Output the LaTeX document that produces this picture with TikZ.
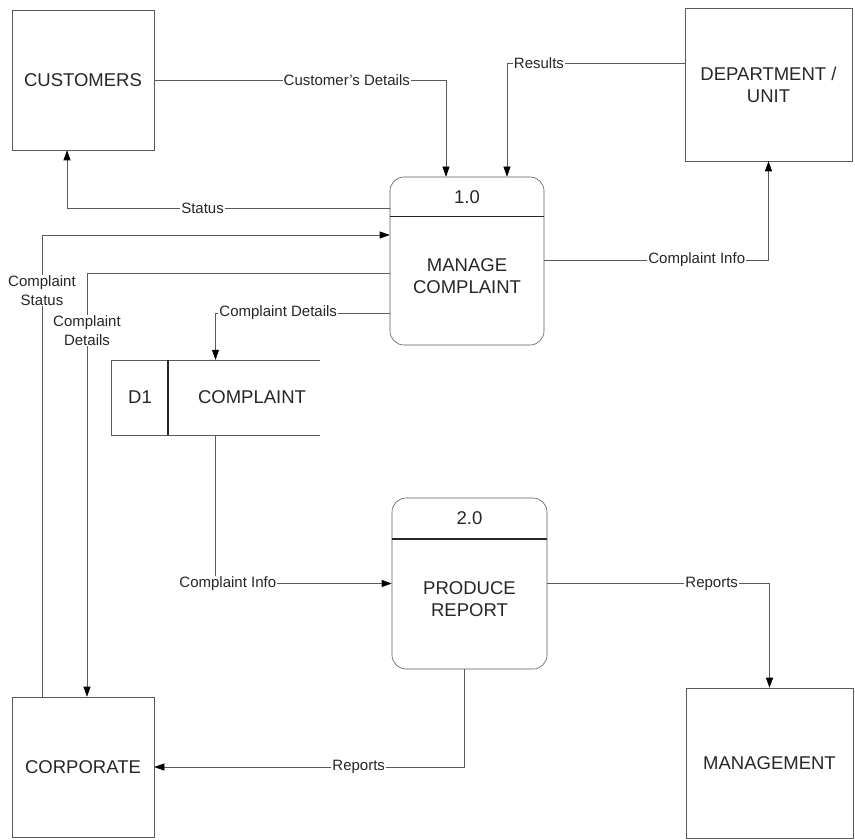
\documentclass[tikz,border=0pt]{standalone}
\usepackage{fontspec}
\setmainfont{Liberation Sans}
\usetikzlibrary{arrows.meta}
\definecolor{linegray}{HTML}{5A5A5A}
\definecolor{inkgray}{HTML}{262626}

\begin{document}
\begin{tikzpicture}[
    x=1pt, y=-1pt,
    every node/.style={text=inkgray, align=center},
    entity/.style={draw=linegray, line width=0.6pt, inner sep=0pt, font=\fontsize{18.5}{22}\selectfont},
    proc/.style={draw=linegray, line width=0.6pt, rounded corners=14pt, inner sep=0pt},
    ptext/.style={inner sep=0pt, font=\fontsize{18.5}{22}\selectfont},
    divider/.style={draw=black!85, line width=1.6pt},
    flowlabel/.style={fill=white, inner sep=1pt, font=\fontsize{15}{18.5}\selectfont},
    flow/.style={draw=linegray, line width=0.6pt, -{Triangle[length=10pt, width=7pt, color=black]}}
]
    \useasboundingbox (0,0) rectangle (855,840);

    % Nodes
    \node (cust) [entity, minimum width=142pt, minimum height=140pt] at (83,80) {CUSTOMERS};
    \node (dept) [entity, minimum width=167pt, minimum height=153pt] at (768.5,84.5) {DEPARTMENT /\\UNIT};
    \node (corp) [entity, minimum width=142pt, minimum height=140pt] at (83,767) {CORPORATE};
    \node (mgmt) [entity, minimum width=167pt, minimum height=150pt] at (769.5,763) {MANAGEMENT};

    \node (mc) [proc, minimum width=154pt, minimum height=168pt] at (467,261) {};
    \node (mcnum) [ptext] at ([yshift=-20pt]mc.north) {1.0};
    \draw [divider] ([yshift=-40pt]mc.north west) -- ([yshift=-40pt]mc.north east);
    \node (mctitle) [ptext] at (467,276) {MANAGE\\COMPLAINT};

    \node (pr) [proc, minimum width=155pt, minimum height=171pt] at (469.5,583.5) {};
    \node (prnum) [ptext] at ([yshift=-20pt]pr.north) {2.0};
    \draw [divider] ([yshift=-41pt]pr.north west) -- ([yshift=-41pt]pr.north east);
    \node (prtitle) [ptext] at (469.5,599) {PRODUCE\\REPORT};

    \node (d1) [minimum width=209pt, minimum height=75pt, inner sep=0pt] at (215.5,397.5) {};
    \draw [linegray, line width=0.6pt] (d1.north east) -- (d1.north west) -- (d1.south west) -- (d1.south east);
    \draw [divider] ([xshift=57pt]d1.north west) -- ([xshift=57pt]d1.south west);
    \node (d1id) [ptext] at (140,397) {D1};
    \node (d1name) [ptext] at (252,397) {COMPLAINT};

    % Edges
    \draw [flow] (cust.east) -| node[flowlabel, pos=0.33] {Customer's Details} ([xshift=-21pt]mc.north);
    \draw [flow] ([yshift=21.5pt]dept.west) -| node[flowlabel, pos=0.41] {Results} ([xshift=40pt]mc.north);
    \draw [flow] ([yshift=53pt]mc.west) -| node[flowlabel, pos=0.29] {Status} ([xshift=-16pt]cust.south);
    \draw [flow] ([xshift=-41pt]corp.north) |- node[flowlabel, pos=0.44] {Complaint\\Status} ([yshift=26pt]mc.west);
    \draw [flow] ([yshift=-12pt]mc.west) -| node[flowlabel, pos=0.568] {Complaint\\Details} ([xshift=4pt]corp.north);
    \draw [flow] ([yshift=-52pt]mc.west) -| node[flowlabel, pos=0.32] {Complaint Details} (d1.north);
    \draw [flow] ([yshift=1pt]mc.east) -| node[flowlabel, pos=0.34] {Complaint Info} (dept.south);
    \draw [flow] (d1.south) |- node[flowlabel, pos=0.535] {Complaint Info} (pr.west);
    \draw [flow] (pr.east) -| node[flowlabel, pos=0.37] {Reports} (mgmt.north);
    \draw [flow] ([xshift=-5.5pt]pr.south) |- node[flowlabel, pos=0.67] {Reports} (corp.east);
\end{tikzpicture}
\end{document}
